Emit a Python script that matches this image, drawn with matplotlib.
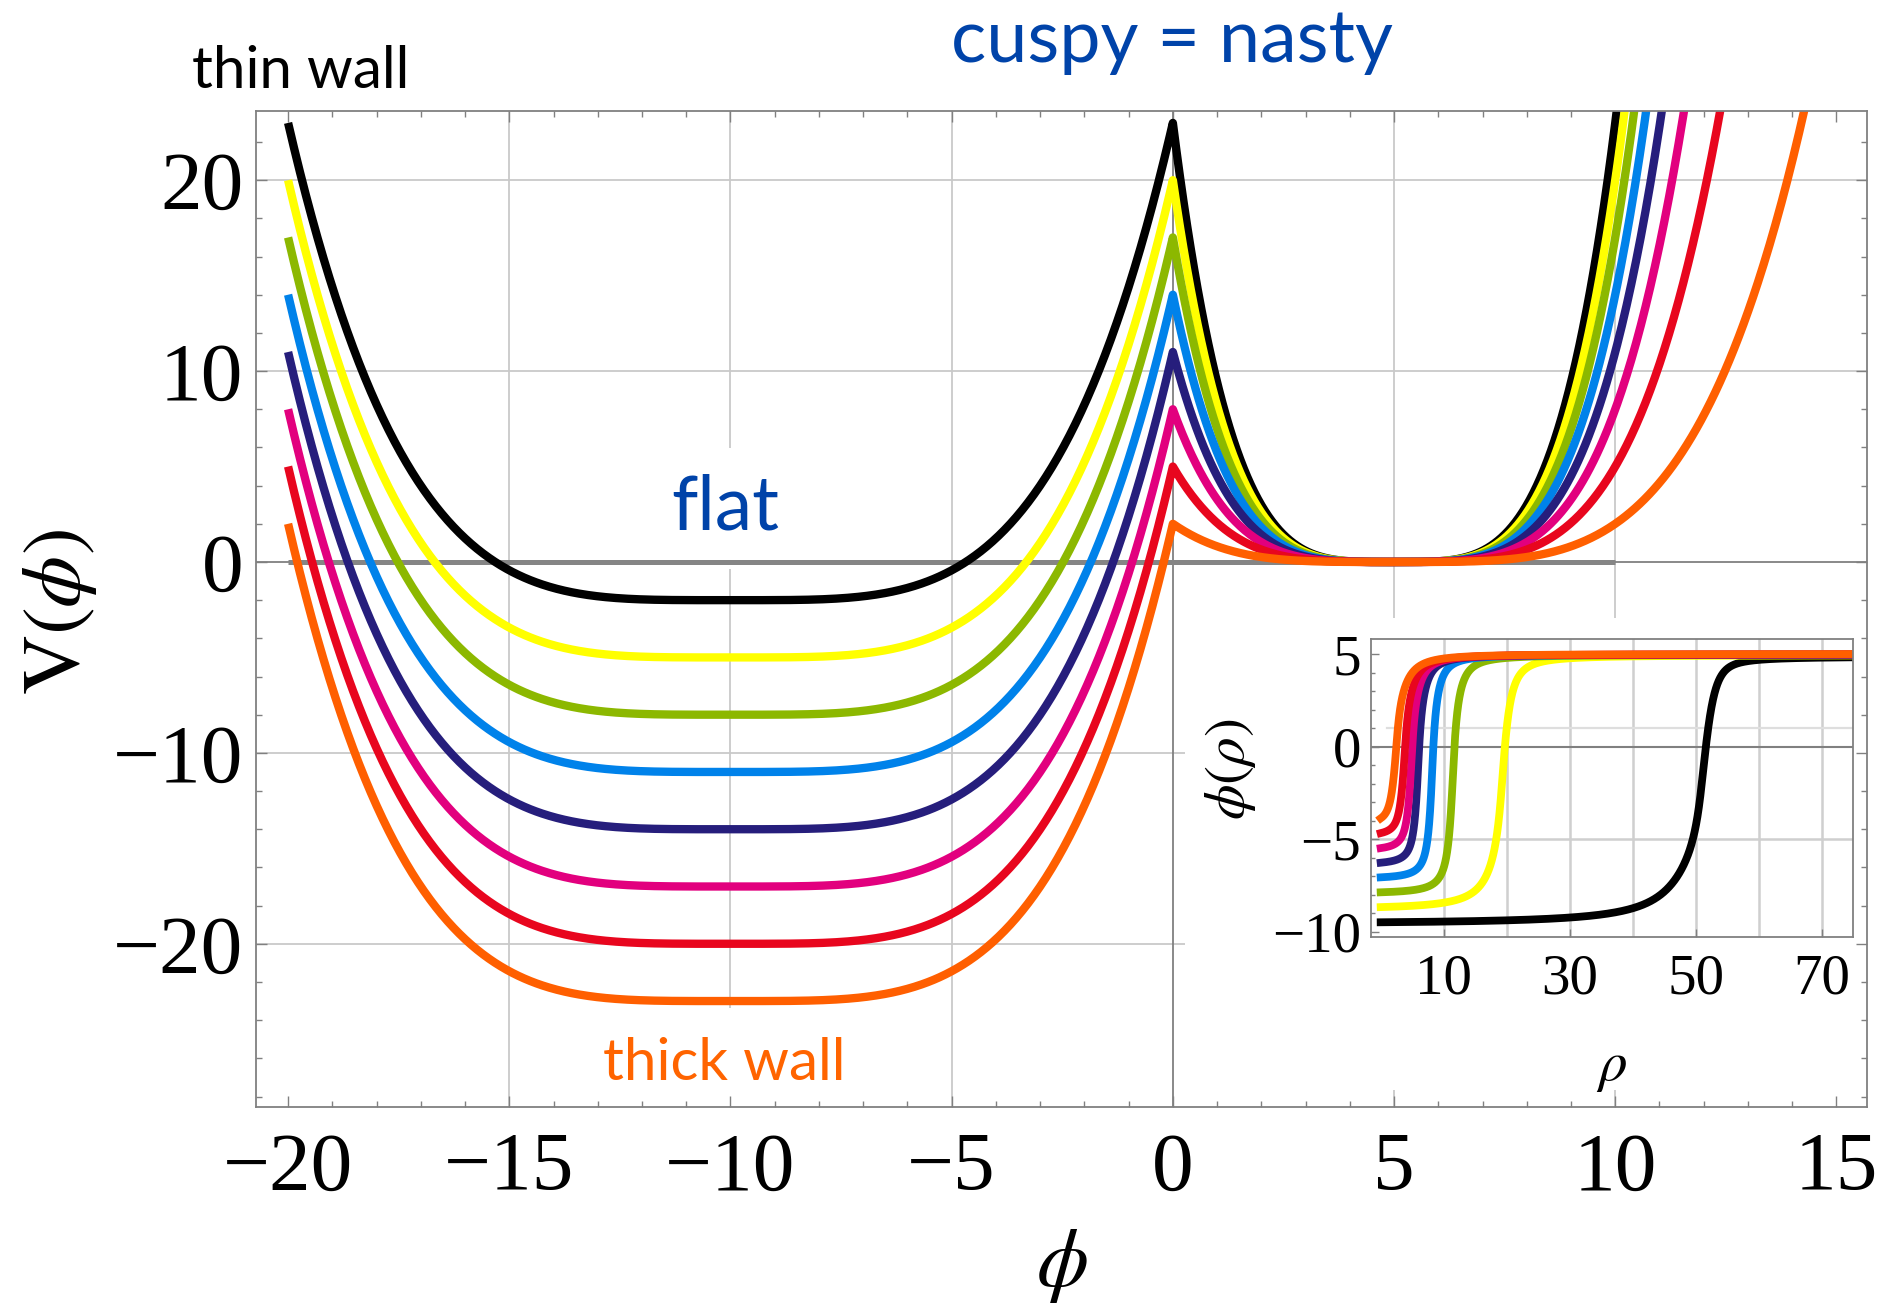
import numpy as np
import matplotlib
matplotlib.use("Agg")
import matplotlib.pyplot as plt
from matplotlib.patches import Rectangle
from matplotlib.ticker import MultipleLocator, FixedLocator

plt.rcParams['mathtext.fontset'] = 'stix'
plt.rcParams['axes.unicode_minus'] = True

# ---- potential family V(phi) ----
colors = ['#000000', '#FFFF00', '#8CB800', '#0082EA', '#261E7C',
          '#E2007E', '#E8061E', '#FF5F00']
barrier_top = [23, 20, 17, 14, 11, 8, 5, 2]            # V at the cusp phi = 0
well_bottom = [-2, -5, -8, -11, -14, -17, -20, -23]    # V at the true vacuum
true_vac = -10.0
false_vac = 5.0

# ---- bounce profiles phi(rho) (inset) ----
phi_center = [-9.49, -8.67, -7.87, -7.06, -6.27, -5.48, -4.67, -3.87]
phi_outside = [4.88, 4.95, 4.97, 4.98, 4.99, 5.0, 5.0, 5.02]
rho_cross = [51.6, 19.7, 11.7, 8.35, 6.1, 5.0, 3.86, 2.43]
width_in = [3.8, 1.8, 0.85, 0.7, 0.65, 0.65, 0.65, 0.7]
width_out = [1.05, 1.2, 1.0, 0.9, 1.0, 1.1, 1.25, 1.45]

xticks_main = [-20, -15, -10, -5, 0, 5, 10, 15]
yticks_main = [-20, -10, 0, 10, 20]
xticks_inset = [10, 30, 50, 70]
yticks_inset = [-10, -5, 0, 5]

W, H = 1883, 1305
fig = plt.figure(figsize=(W / 100, H / 100), dpi=100)


def fx(px):
    return px / W


def fy(py):
    return 1 - py / H


ax = fig.add_axes([fx(255.8), fy(1107), fx(1867.4) - fx(255.8), fy(110.5) - fy(1107)])
ax.set_xlim(-20.73, 15.7)
ax.set_ylim(-28.55, 23.65)

grid_c = '#c9c9c9'
axis_c = '#808080'
for x in [-15, -10, -5, 5, 10]:
    ax.axvline(x, color=grid_c, lw=1.3, zorder=0.3)
for y in [-20, -10, 10, 20]:
    ax.axhline(y, color=grid_c, lw=1.3, zorder=0.3)
ax.axvline(0, color=axis_c, lw=1.3, zorder=0.4)
ax.axhline(0, color=axis_c, lw=1.3, zorder=0.4)

# V = 0 reference line
ax.plot([-20, 10], [0, 0], color='#858585', lw=3.6, zorder=1.2, solid_capstyle='butt')

phi_l = np.linspace(-20, 0, 600)
phi_r = np.linspace(0, 16, 600)
for c, top, bot in zip(colors, barrier_top, well_bottom):
    v_l = bot + (top - bot) * ((phi_l - true_vac) / (0 - true_vac)) ** 4
    v_r = top * ((phi_r - false_vac) / (0 - false_vac)) ** 4
    ax.plot(np.concatenate([phi_l, phi_r[1:]]), np.concatenate([v_l, v_r[1:]]),
            color=c, lw=6.0, zorder=2, solid_capstyle='butt')

ax.xaxis.set_major_locator(FixedLocator(xticks_main))
ax.yaxis.set_major_locator(FixedLocator(yticks_main))
ax.xaxis.set_minor_locator(MultipleLocator(1))
ax.yaxis.set_minor_locator(MultipleLocator(2))
ax.tick_params(which='both', direction='in', top=True, right=True, color=axis_c, width=1.0)
ax.tick_params(which='major', length=8)
ax.tick_params(which='minor', length=4)
ax.tick_params(axis='x', which='major', pad=18)
ax.tick_params(axis='y', which='major', pad=9)
for lab in ax.get_xticklabels() + ax.get_yticklabels():
    lab.set_fontfamily('Liberation Serif')
    lab.set_fontsize(60)
for s in ax.spines.values():
    s.set_color(axis_c)
    s.set_linewidth(1.3)
    s.set_zorder(2.6)

# white panel behind the inset
ax.add_patch(Rectangle((fx(1185), fy(1090)), fx(1867) - fx(1185), fy(618) - fy(1090),
                       transform=fig.transFigure, facecolor='white', edgecolor='none',
                       zorder=1))

# annotations
blue = '#0043A9'
ax.text(fx(725), fy(530), 'flat', transform=fig.transFigure, ha='center', va='baseline',
        fontsize=54, color=blue, family='Lato', zorder=1.1,
        bbox=dict(boxstyle='square,pad=0.35', facecolor='white', edgecolor='none'))
ax.text(fx(724), fy(1080), 'thick wall', transform=fig.transFigure, ha='center',
        va='baseline', fontsize=42, color='#FF6400', family='Lato', zorder=1.1,
        bbox=dict(boxstyle='square,pad=0.5', facecolor='white', edgecolor='none'))
fig.text(fx(301), fy(88), 'thin wall', ha='center', va='baseline', fontsize=42,
         color='black', family='Lato')
fig.text(fx(1172), fy(62), 'cuspy = nasty', ha='center', va='baseline', fontsize=53,
         color=blue, family='Lato')

fig.text(fx(59), fy(612), r'$\mathrm{V}(\phi)$', rotation=90, ha='center', va='center',
         fontsize=60)
fig.text(fx(1062), fy(1286), r'$\phi$', ha='center', va='baseline', fontsize=60)

# ---- inset: bounce profiles ----
axi = fig.add_axes([fx(1370.6), fy(936.7), fx(1853.2) - fx(1370.6), fy(639.3) - fy(936.7)])
axi.set_xlim(-1.6, 75.0)
axi.set_ylim(-10.27, 5.81)
for x in range(10, 80, 10):
    axi.axvline(x, color='#cfcfcf', lw=1.8, zorder=0.3)
axi.axhline(-5, color='#cfcfcf', lw=1.8, zorder=0.3)
axi.plot([1.0, 75.0], [1, 1], color='#dedede', lw=1.6, zorder=0.3)
axi.axhline(0, color=axis_c, lw=1.5, zorder=0.4)

K = 1.5


def sig(t):
    return 0.5 + 0.5 * t / (1 + np.abs(t) ** K) ** (1 / K)


def sig_inv(s):
    r = 2 * s - 1
    a = abs(r) ** K
    return np.sign(r) * (a / (1 - a)) ** (1 / K)


def wall_width(r, rc, wi, wo):
    # smooth hand-over from the inner to the outer wall width
    b = 1.2 * (wi + wo) / 2
    return wi + (wo - wi) * 0.5 * (1 + np.tanh((r - rc) / b))


rho = np.linspace(0, 75, 4000)
for c, p0, p1, rz, wi, wo in zip(colors, phi_center, phi_outside, rho_cross,
                                  width_in, width_out):
    tz = sig_inv(-p0 / (p1 - p0))
    rc = rz - tz * (wi if tz < 0 else wo)
    for _ in range(40):
        rc = rz - tz * wall_width(rz, rc, wi, wo)
    t = (rho - rc) / wall_width(rho, rc, wi, wo)
    s0 = sig((0 - rc) / wall_width(0.0, rc, wi, wo))
    prof = p0 + (p1 - p0) * (sig(t) - s0) / (1 - s0)
    axi.plot(rho, prof, color=c, lw=5.6, zorder=2, solid_capstyle='projecting')

axi.xaxis.set_major_locator(FixedLocator(xticks_inset))
axi.yaxis.set_major_locator(FixedLocator(yticks_inset))
axi.yaxis.set_minor_locator(MultipleLocator(1))
axi.tick_params(which='both', direction='in', color=axis_c, width=1.0)
axi.tick_params(which='major', length=6)
axi.tick_params(which='minor', length=3)
axi.tick_params(axis='x', which='major', pad=12)
axi.tick_params(axis='y', which='major', pad=7)
for lab in axi.get_xticklabels() + axi.get_yticklabels():
    lab.set_fontfamily('Liberation Serif')
    lab.set_fontsize(41)
for s in axi.spines.values():
    s.set_color(axis_c)
    s.set_linewidth(1.3)

fig.text(fx(1231), fy(769), r'$\phi(\rho)$', rotation=90, ha='center', va='center',
         fontsize=41)
fig.text(fx(1612), fy(1066), r'$\rho$', ha='center', va='center', fontsize=41)

fig.savefig('out.png', dpi=100)
